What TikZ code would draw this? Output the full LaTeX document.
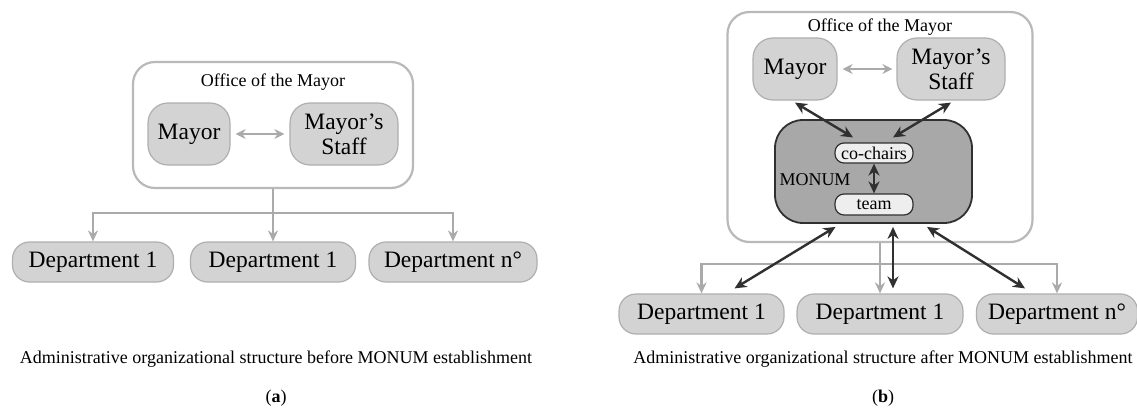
\documentclass[tikz,border=0pt]{standalone}
\usepackage{fontspec}
\setmainfont{Liberation Serif}
\newfontfamily\figserif{Liberation Serif}
\usetikzlibrary{arrows.meta}
\definecolor{boxgray}{RGB}{211,211,211}
\definecolor{boxline}{RGB}{175,175,175}
\definecolor{officeline}{RGB}{185,185,185}
\definecolor{monumgray}{RGB}{168,168,168}
\definecolor{innergray}{RGB}{238,238,238}
\definecolor{darkline}{RGB}{48,48,48}
\definecolor{lightarrow}{RGB}{170,170,170}
\begin{document}
\begin{tikzpicture}
	[x=1pt,y=-1pt,
	office/.style={draw=officeline,line width=2.2pt,fill=white,rounded corners=22pt,inner sep=0pt},
	unit/.style={draw=boxline,line width=1.2pt,fill=boxgray,rounded corners=20pt,align=center,inner sep=0pt,font=\figserif\fontsize{23.5}{25}\selectfont},
	dept/.style={unit,minimum height=40pt,rounded corners=17pt},
	monumbox/.style={draw=darkline,line width=1.8pt,fill=monumgray,rounded corners=28pt,inner sep=0pt},
	inner/.style={draw=darkline,line width=1.2pt,fill=innergray,rounded corners=9pt,inner sep=0pt,minimum width=78pt,minimum height=20pt,font=\figserif\fontsize{18}{20}\selectfont},
	label/.style={font=\figserif\fontsize{18}{20}\selectfont,inner sep=0pt},
	caption/.style={font=\figserif\fontsize{18}{20}\selectfont,inner sep=0pt},
	grayline/.style={draw=lightarrow,line width=2.2pt},
	grayarrow/.style={grayline,-{Stealth[length=11pt,width=10pt]}},
	graytwo/.style={grayline,{Stealth[length=10pt,width=10pt]}-{Stealth[length=10pt,width=10pt]}},
	blackarrow/.style={draw=darkline,line width=2.4pt,{Stealth[length=12pt,width=11pt]}-{Stealth[length=12pt,width=11pt]}}]
	\fill[white] (0,0) rectangle (1137,412);
	\useasboundingbox (0,0) rectangle (1137,412);

	% (a) before
	\node[office,minimum width=280pt,minimum height=126pt] (officeA) at (273,125) {};
	\node[label] (officeAtext) at (273,82) {Office of the Mayor};
	\node[unit,minimum width=82pt,minimum height=62pt] (mayorA) at (189,134) {Mayor};
	\node[unit,minimum width=108pt,minimum height=62pt] (staffA) at (344,134) {Mayor’s\\Staff};
	\node[dept,minimum width=161pt] (depA1) at (93,262) {Department 1};
	\node[dept,minimum width=165pt] (depA2) at (273,262) {Department 1};
	\node[dept,minimum width=168pt] (depA3) at (453,262) {Department n°};
	\draw[graytwo,shorten <=5pt,shorten >=5pt] (mayorA) -- (staffA);
	\coordinate (forkA) at (273,213);
	\draw[grayline] (officeA.south) -- (forkA);
	\draw[grayarrow] (forkA) -| (depA1.north);
	\draw[grayarrow] (forkA) -- (depA2.north);
	\draw[grayarrow] (forkA) -| (depA3.north);
	\node[caption] (capA) at (276,359) {Administrative organizational structure before MONUM establishment};
	\node[caption] (tagA) at (276,398) {(\textbf{a})};

	% (b) after
	\node[office,minimum width=305pt,minimum height=230pt] (officeB) at (880,127) {};
	\node[label] (officeBtext) at (880,27) {Office of the Mayor};
	\node[unit,minimum width=84pt,minimum height=62pt] (mayorB) at (795,69) {Mayor};
	\node[unit,minimum width=108pt,minimum height=62pt] (staffB) at (951,69) {Mayor’s\\Staff};
	\node[monumbox,minimum width=197pt,minimum height=103pt] (monum) at (873.5,171.5) {};
	\node[inner] (cochairs) at (874,153) {co-chairs};
	\node[inner,minimum height=21pt] (team) at (874,204.5) {team};
	\node[label] (monumtext) at (815,180) {MONUM};
	\node[dept,minimum width=165pt] (depB1) at (701.5,314) {Department 1};
	\node[dept,minimum width=166pt] (depB2) at (880,314) {Department 1};
	\node[dept,minimum width=161pt] (depB3) at (1057,314) {Department n°};
	\draw[graytwo,shorten <=5pt,shorten >=4pt] (mayorB) -- (staffB);
	\coordinate (forkB) at (880,264);
	\draw[grayline] (officeB.south) -- (forkB);
	\draw[grayarrow] (forkB) -| (depB1.north);
	\draw[grayarrow] (forkB) -- (depB2.north);
	\draw[grayarrow] (forkB) -| (depB3.north);
	\draw[blackarrow] ([yshift=-2pt]mayorB.south) -- ([xshift=-21pt,yshift=5pt]cochairs.north);
	\draw[blackarrow] ([yshift=-2pt]staffB.south) -- ([xshift=19pt,yshift=5pt]cochairs.north);
	\draw[blackarrow] (cochairs.south) -- (team.north);
	\draw[blackarrow] ([xshift=-38pt,yshift=-3pt]monum.south) -- ([xshift=33pt,yshift=5pt]depB1.north);
	\draw[blackarrow] ([xshift=19.5pt,yshift=-3pt]monum.south) -- ([xshift=13pt,yshift=5pt]depB2.north);
	\draw[blackarrow] ([xshift=53.5pt,yshift=-3pt]monum.south) -- ([xshift=-32pt,yshift=5pt]depB3.north);
	\node[caption] (capB) at (883,359) {Administrative organizational structure after MONUM establishment};
	\node[caption] (tagB) at (883,398) {(\textbf{b})};
\end{tikzpicture}
\end{document}
